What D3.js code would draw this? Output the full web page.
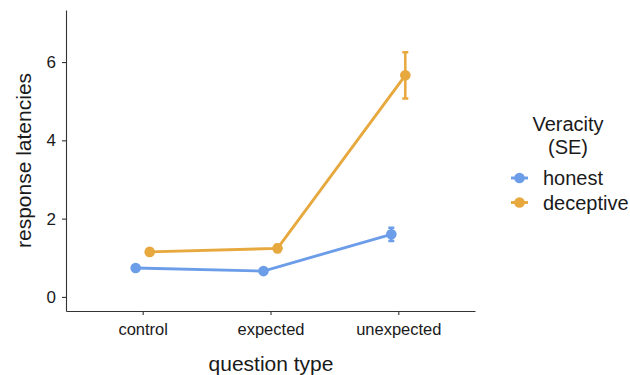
<!DOCTYPE html>
<html>
<head>
<meta charset="utf-8">
<script src="https://cdn.jsdelivr.net/npm/d3@7"></script>
<style>
body { margin: 0; background: #fff; }
text { font-family: Arial, "Liberation Sans", sans-serif; fill: #1a1a1a; }
</style>
</head>
<body>
<script>
var categories = ["control", "expected", "unexpected"];
var groups = ["honest", "deceptive"];
var honestMean = [0.74, 0.66, 1.60];
var honestSE = [0.04, 0.04, 0.17];
var deceptiveMean = [1.15, 1.24, 5.66];
var deceptiveSE = [0.08, 0.09, 0.59];
var yTicks = [0, 2, 4, 6];
var colors = ["#6c9de9", "#e7a83e"];

var margin = {top: 10, left: 66, right: 155, bottom: 64},
    width = 630 - margin.left - margin.right,
    height = 375 - margin.top - margin.bottom;

var svg = d3.select("body").append("svg")
    .attr("width", 630)
    .attr("height", 375);

var g = svg.append("g")
    .attr("transform", "translate(" + margin.left + "," + margin.top + ")");

var x = d3.scalePoint()
    .domain(categories)
    .range([0, width])
    .padding(0.6);

var y = d3.scaleLinear()
    .domain([-0.36, 7.33])
    .range([height, 0]);

var dodge = d3.scalePoint()
    .domain(groups)
    .range([-7, 7]);

var series = [
  {name: "honest", mean: honestMean, se: honestSE},
  {name: "deceptive", mean: deceptiveMean, se: deceptiveSE}
];

// axes
var xAxis = g.append("g")
    .attr("transform", "translate(0," + height + ")")
    .call(d3.axisBottom(x).tickSize(4).tickPadding(8).tickSizeOuter(0));
var yAxis = g.append("g")
    .call(d3.axisLeft(y).tickValues(yTicks).tickSize(4).tickPadding(6).tickSizeOuter(0));

[xAxis, yAxis].forEach(function(a) {
  a.select(".domain").attr("stroke", "#333").attr("stroke-width", 1.1);
  a.selectAll(".tick line").attr("stroke", "#333").attr("stroke-width", 1.1);
  a.selectAll(".tick text").style("font-size", "16.5px").attr("fill", "#1a1a1a");
});
yAxis.selectAll(".tick text").style("font-size", "17px");

var line = d3.line()
    .x(function(d) { return d.x; })
    .y(function(d) { return y(d.v); });

series.forEach(function(s, si) {
  var pts = categories.map(function(c, i) {
    return {x: x(c) + dodge(s.name), v: s.mean[i], se: s.se[i]};
  });
  var sg = g.append("g");
  sg.append("path")
      .datum(pts)
      .attr("fill", "none")
      .attr("stroke", colors[si])
      .attr("stroke-width", 2.9)
      .attr("d", line);
  sg.selectAll(".err").data(pts).enter().append("path")
      .attr("class", "err")
      .attr("fill", "none")
      .attr("stroke", colors[si])
      .attr("stroke-width", 2.5)
      .attr("d", function(d) {
        var t = y(d.v + d.se), b = y(d.v - d.se);
        return "M" + (d.x - 3) + "," + t + "H" + (d.x + 3) +
               "M" + d.x + "," + t + "V" + b +
               "M" + (d.x - 3) + "," + b + "H" + (d.x + 3);
      });
  sg.selectAll(".dot").data(pts).enter().append("circle")
      .attr("class", "dot")
      .attr("cx", function(d) { return d.x; })
      .attr("cy", function(d) { return y(d.v); })
      .attr("r", 5.3)
      .attr("fill", colors[si]);
});

// axis titles
svg.append("text")
    .attr("x", 271)
    .attr("y", 371)
    .attr("text-anchor", "middle")
    .style("font-size", "21px")
    .text("question type");

svg.append("text")
    .attr("transform", "translate(31," + (margin.top + height / 2) + ") rotate(-90)")
    .attr("text-anchor", "middle")
    .style("font-size", "21px")
    .text("response latencies");

// legend
var legend = svg.append("g").attr("transform", "translate(500,0)");
legend.append("text")
    .attr("x", 68).attr("y", 131)
    .attr("text-anchor", "middle")
    .style("font-size", "20px")
    .text("Veracity");
legend.append("text")
    .attr("x", 68).attr("y", 154)
    .attr("text-anchor", "middle")
    .style("font-size", "20px")
    .text("(SE)");

var key = legend.selectAll(".key").data(series).enter().append("g")
    .attr("class", "key")
    .attr("transform", function(d, i) { return "translate(0," + (178 + i * 24.5) + ")"; });
key.append("line")
    .attr("x1", 11).attr("x2", 28)
    .attr("stroke", function(d, i) { return colors[i]; })
    .attr("stroke-width", 2.9);
key.append("circle")
    .attr("cx", 19.5).attr("r", 5.3)
    .attr("fill", function(d, i) { return colors[i]; });
key.append("text")
    .attr("x", 43).attr("dy", "0.35em")
    .style("font-size", "20px")
    .text(function(d) { return d.name; });
</script>
</body>
</html>
